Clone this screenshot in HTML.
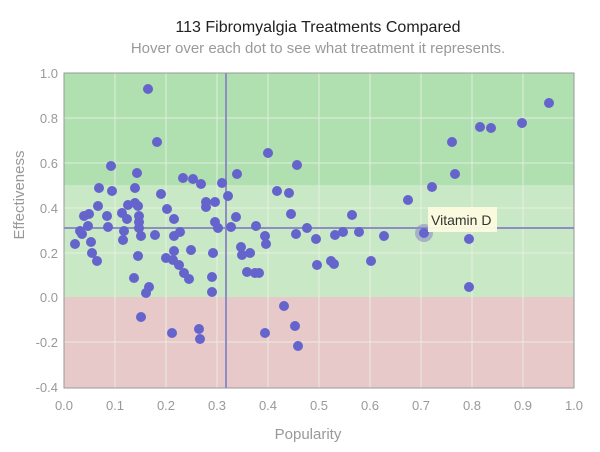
<!DOCTYPE html>
<html><head><meta charset="utf-8"><style>
html,body{margin:0;padding:0;background:#fff;}
svg{display:block;font-family:"Liberation Sans",sans-serif;}
</style></head><body>
<svg width="600" height="452" viewBox="0 0 600 452" xmlns="http://www.w3.org/2000/svg">
<text x="318" y="32" text-anchor="middle" font-size="16" fill="#222">113 Fibromyalgia Treatments Compared</text>
<text x="318" y="53" text-anchor="middle" font-size="15" fill="#999">Hover over each dot to see what treatment it represents.</text>
<rect x="64" y="73" width="510" height="112" fill="#b0dfb0"/>
<rect x="64" y="185" width="510" height="112" fill="#c8e8c6"/>
<rect x="64" y="297" width="510" height="91" fill="#e7c9ca"/>
<g stroke="#eef3e6" stroke-width="1" opacity="0.8">
<line x1="115" y1="73" x2="115" y2="388"/><line x1="166" y1="73" x2="166" y2="388"/><line x1="217" y1="73" x2="217" y2="388"/><line x1="268" y1="73" x2="268" y2="388"/><line x1="319" y1="73" x2="319" y2="388"/><line x1="370" y1="73" x2="370" y2="388"/><line x1="421" y1="73" x2="421" y2="388"/><line x1="472" y1="73" x2="472" y2="388"/><line x1="523" y1="73" x2="523" y2="388"/>
<line x1="64" y1="118" x2="574" y2="118"/><line x1="64" y1="163" x2="574" y2="163"/><line x1="64" y1="208" x2="574" y2="208"/><line x1="64" y1="253" x2="574" y2="253"/><line x1="64" y1="342" x2="574" y2="342"/>
</g>
<rect x="64" y="73" width="510" height="315" fill="none" stroke="#999" stroke-width="1"/>
<line x1="226" y1="73" x2="226" y2="388" stroke="#8e8ec4" stroke-width="2"/>
<line x1="64" y1="228" x2="574" y2="228" stroke="#8e8ec4" stroke-width="2"/>
<g font-size="13" fill="#999" text-anchor="end">
<text x="58" y="78">1.0</text><text x="58" y="123">0.8</text><text x="58" y="168">0.6</text><text x="58" y="213">0.4</text><text x="58" y="258">0.2</text><text x="58" y="302">0.0</text><text x="58" y="347">-0.2</text><text x="58" y="392">-0.4</text>
</g>
<g font-size="13" fill="#999" text-anchor="middle">
<text x="64" y="410">0.0</text><text x="115" y="410">0.1</text><text x="166" y="410">0.2</text><text x="217" y="410">0.3</text><text x="268" y="410">0.4</text><text x="319" y="410">0.5</text><text x="370" y="410">0.6</text><text x="421" y="410">0.7</text><text x="472" y="410">0.8</text><text x="523" y="410">0.9</text><text x="574" y="410">1.0</text>
</g>
<text x="308" y="439" text-anchor="middle" font-size="15" fill="#999">Popularity</text>
<text transform="translate(24,195) rotate(-90)" text-anchor="middle" font-size="15" fill="#999">Effectiveness</text>
<circle cx="424" cy="233" r="9" fill="#8e8ec4" opacity="0.6"/>
<g fill="#6464cc">
<circle cx="148" cy="89" r="5"/><circle cx="157" cy="142" r="5"/><circle cx="111" cy="166" r="5"/><circle cx="137" cy="173" r="5"/><circle cx="183" cy="178" r="5"/><circle cx="193" cy="179" r="5"/><circle cx="201" cy="184" r="5"/><circle cx="222" cy="183" r="5"/><circle cx="237" cy="174" r="5"/><circle cx="99" cy="188" r="5"/><circle cx="112" cy="191" r="5"/><circle cx="135" cy="188" r="5"/><circle cx="161" cy="194" r="5"/><circle cx="228" cy="196" r="5"/><circle cx="98" cy="206" r="5"/><circle cx="128" cy="205" r="5"/><circle cx="135" cy="203" r="5"/><circle cx="138" cy="206" r="5"/><circle cx="167" cy="209" r="5"/><circle cx="206" cy="202" r="5"/><circle cx="206" cy="207" r="5"/><circle cx="215" cy="202" r="5"/><circle cx="84" cy="216" r="5"/><circle cx="89" cy="214" r="5"/><circle cx="107" cy="216" r="5"/><circle cx="122" cy="213" r="5"/><circle cx="127" cy="219" r="5"/><circle cx="139" cy="216" r="5"/><circle cx="139" cy="222" r="5"/><circle cx="174" cy="219" r="5"/><circle cx="215" cy="222" r="5"/><circle cx="236" cy="217" r="5"/><circle cx="88" cy="226" r="5"/><circle cx="108" cy="227" r="5"/><circle cx="139" cy="228" r="5"/><circle cx="218" cy="228" r="5"/><circle cx="231" cy="227" r="5"/><circle cx="256" cy="226" r="5"/><circle cx="80" cy="231" r="5"/><circle cx="82" cy="234" r="5"/><circle cx="124" cy="231" r="5"/><circle cx="141" cy="236" r="5"/><circle cx="155" cy="235" r="5"/><circle cx="174" cy="236" r="5"/><circle cx="180" cy="232" r="5"/><circle cx="75" cy="244" r="5"/><circle cx="91" cy="242" r="5"/><circle cx="123" cy="240" r="5"/><circle cx="92" cy="253" r="5"/><circle cx="97" cy="261" r="5"/><circle cx="138" cy="256" r="5"/><circle cx="174" cy="251" r="5"/><circle cx="191" cy="250" r="5"/><circle cx="213" cy="253" r="5"/><circle cx="166" cy="258" r="5"/><circle cx="173" cy="260" r="5"/><circle cx="179" cy="265" r="5"/><circle cx="241" cy="247" r="5"/><circle cx="242" cy="255" r="5"/><circle cx="250" cy="253" r="5"/><circle cx="184" cy="273" r="5"/><circle cx="189" cy="279" r="5"/><circle cx="134" cy="278" r="5"/><circle cx="149" cy="287" r="5"/><circle cx="146" cy="293" r="5"/><circle cx="212" cy="277" r="5"/><circle cx="212" cy="292" r="5"/><circle cx="247" cy="272" r="5"/><circle cx="255" cy="273" r="5"/><circle cx="259" cy="273" r="5"/>
<circle cx="268" cy="153" r="5"/><circle cx="297" cy="165" r="5"/><circle cx="277" cy="191" r="5"/><circle cx="289" cy="193" r="5"/><circle cx="291" cy="214" r="5"/><circle cx="352" cy="215" r="5"/><circle cx="307" cy="228" r="5"/><circle cx="296" cy="234" r="5"/><circle cx="316" cy="239" r="5"/><circle cx="335" cy="235" r="5"/><circle cx="343" cy="232" r="5"/><circle cx="359" cy="232" r="5"/><circle cx="265" cy="236" r="5"/><circle cx="266" cy="244" r="5"/><circle cx="317" cy="265" r="5"/><circle cx="331" cy="261" r="5"/><circle cx="334" cy="264" r="5"/><circle cx="371" cy="261" r="5"/><circle cx="284" cy="306" r="5"/><circle cx="199" cy="329" r="5"/><circle cx="200" cy="339" r="5"/><circle cx="265" cy="333" r="5"/><circle cx="295" cy="326" r="5"/><circle cx="298" cy="346" r="5"/><circle cx="141" cy="317" r="5"/><circle cx="172" cy="333" r="5"/>
<circle cx="549" cy="103" r="5"/><circle cx="522" cy="123" r="5"/><circle cx="480" cy="127" r="5"/><circle cx="491" cy="128" r="5"/><circle cx="452" cy="142" r="5"/><circle cx="455" cy="174" r="5"/><circle cx="432" cy="187" r="5"/><circle cx="408" cy="200" r="5"/><circle cx="384" cy="236" r="5"/><circle cx="424" cy="233" r="5"/><circle cx="469" cy="239" r="5"/><circle cx="469" cy="287" r="5"/>
</g>
<rect x="428" y="207" width="69" height="25" fill="#fdfbe0" opacity="0.95"/>
<text x="431" y="225" font-size="14" fill="#333">Vitamin D</text>
</svg>
</body></html>
